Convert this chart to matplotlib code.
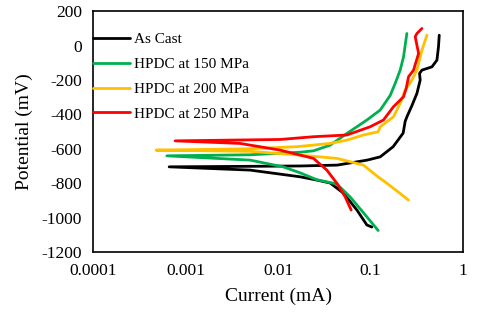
import numpy as np
import matplotlib
matplotlib.use("Agg")
import matplotlib.pyplot as plt

# Polarization curves: log10(current mA) and potential (mV).
# Each series runs from the cathodic end, through Ecorr, to the anodic end.
as_cast_logi = [-0.987, -1.041, -1.149, -1.297, -1.438, -1.582, -1.762, -2.303, -3.178,
                -2.303, -1.762, -1.362, -1.038, -0.897, -0.757, -0.649, -0.627, -0.605,
                -0.555, -0.500, -0.465, -0.472, -0.446, -0.338, -0.284, -0.267, -0.259]
as_cast_mv = [-1055, -1043, -956, -857, -799, -782, -763, -724, -705,
              -702, -700, -695, -666, -647, -588, -509, -440, -410,
              -350, -278, -201, -162, -143, -124, -85, -7, 60]

hpdc150_logi = [-0.919, -1.081, -1.222, -1.365, -1.582, -1.762, -1.946, -2.303, -3.203,
                -2.303, -1.762, -1.618, -1.438, -1.257, -1.041, -0.897, -0.789, -0.735,
                -0.681, -0.645, -0.609]
hpdc150_mv = [-1075, -970, -880, -805, -780, -740, -705, -666, -641,
              -635, -620, -612, -579, -511, -433, -375, -290, -220,
              -143, -66, 70]

hpdc200_logi = [-0.591, -0.789, -0.933, -1.078, -1.365, -1.762, -2.303, -3.319,
                -2.303, -1.798, -1.438, -1.257, -1.078, -0.919, -0.897, -0.754, -0.681,
                -0.627, -0.555, -0.500, -0.446, -0.392]
hpdc200_mv = [-898, -815, -758, -695, -656, -637, -615, -608,
              -600, -588, -569, -550, -520, -501, -472, -414, -336,
              -259, -201, -143, -27, 60]

hpdc250_logi = [-1.211, -1.276, -1.365, -1.474, -1.618, -1.978, -2.411, -3.113,
                -1.978, -1.618, -1.257, -1.005, -0.862, -0.754, -0.645, -0.616, -0.591,
                -0.537, -0.482, -0.519, -0.500, -0.446]
hpdc250_mv = [-956, -879, -801, -724, -656, -608, -569, -554,
              -546, -530, -520, -472, -433, -356, -298, -249, -182,
              -143, -46, 51, 70, 99]

labels = ["As Cast", "HPDC at 150 MPa", "HPDC at 200 MPa", "HPDC at 250 MPa"]
colors = ["#000000", "#00B050", "#FFC000", "#FF0000"]
series = [(as_cast_logi, as_cast_mv), (hpdc150_logi, hpdc150_mv),
          (hpdc200_logi, hpdc200_mv), (hpdc250_logi, hpdc250_mv)]

x_ticks = [0.0001, 0.001, 0.01, 0.1, 1]
x_ticklabels = ["0.0001", "0.001", "0.01", "0.1", "1"]
y_ticks = list(range(-1200, 201, 200))

plt.rcParams["font.family"] = ["Liberation Serif", "DejaVu Serif"]
plt.rcParams["axes.unicode_minus"] = False

fig = plt.figure(figsize=(4.8, 3.17), dpi=100)
ax = fig.add_axes([0.194, 0.205, 0.771, 0.76])

for (logi, mv), lab, col in zip(series, labels, colors):
    ax.plot(10 ** np.array(logi), mv, color=col, lw=2.0, label=lab,
            solid_joinstyle="round", solid_capstyle="round")

ax.set_xscale("log")
ax.set_xlim(0.0001, 1)
ax.set_ylim(-1200, 200)
ax.set_xticks(x_ticks)
ax.set_xticklabels(x_ticklabels)
ax.minorticks_off()
ax.set_yticks(y_ticks)
ax.tick_params(length=0, labelsize=12.5, pad=8)
for s in ax.spines.values():
    s.set_linewidth(1.2)

ax.set_xlabel("Current (mA)", fontsize=14, labelpad=6)
ax.set_ylabel("Potential (mV)", fontsize=14, labelpad=6)

ax.legend(loc="upper left", bbox_to_anchor=(0.0, 0.91), frameon=False, fontsize=11,
          handlelength=2.4, handletextpad=0.3, labelspacing=0.72,
          borderpad=0, borderaxespad=0)

fig.savefig("out.png", dpi=100)
